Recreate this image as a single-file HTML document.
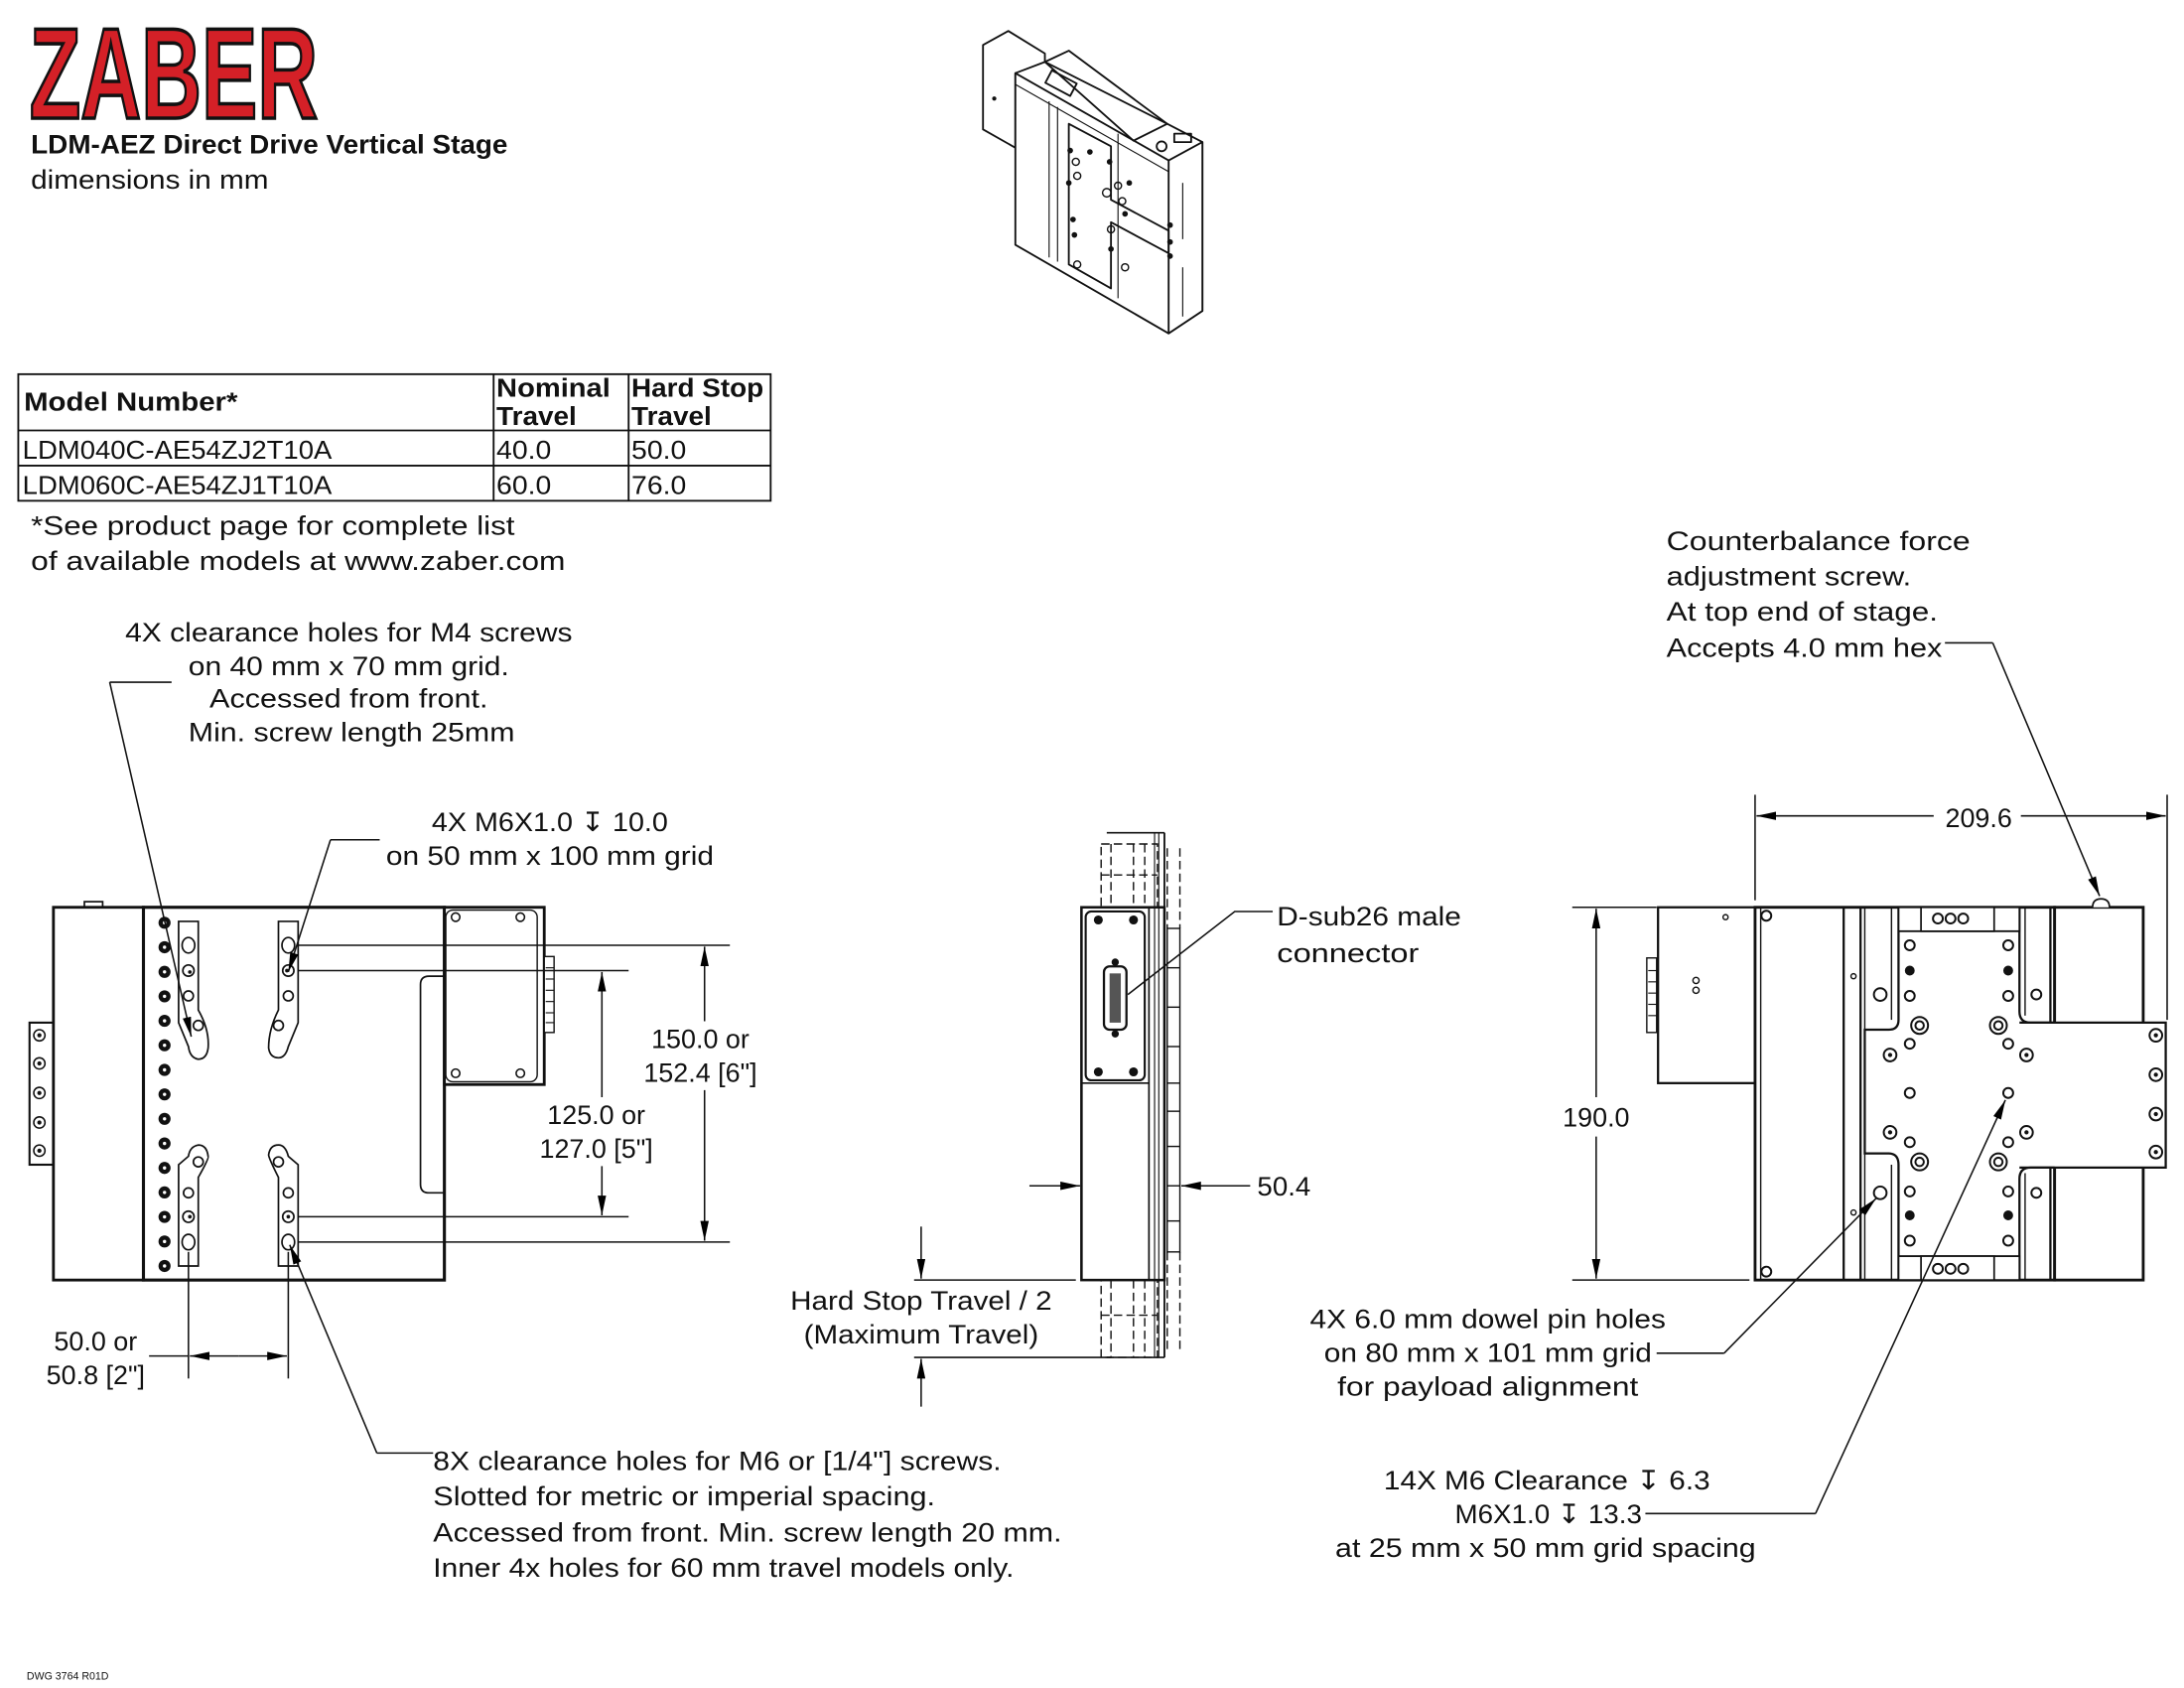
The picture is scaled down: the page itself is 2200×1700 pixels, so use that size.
<!DOCTYPE html>
<html><head><meta charset="utf-8"><style>
html,body{margin:0;padding:0;background:#fff}
svg{display:block}
text{font-family:"Liberation Sans","DejaVu Sans",sans-serif;fill:#111}
</style></head><body>
<svg width="2200" height="1700" viewBox="0 0 1553 1200" xmlns="http://www.w3.org/2000/svg">
<defs>
<marker id="a" viewBox="0 0 14 6" refX="14" refY="3" markerWidth="14" markerHeight="6" markerUnits="userSpaceOnUse" orient="auto-start-reverse"><path d="M0,0 L14,3 L0,6 z" fill="#000"/></marker>
</defs>
<rect width="1553" height="1200" fill="#fff"/>

<!-- Logo -->
<text x="21" y="84" font-size="92" font-weight="bold" textLength="205" lengthAdjust="spacingAndGlyphs" style="fill:#d42027;stroke:#111;stroke-width:2.5;font-family:'Liberation Sans Narrow','Liberation Sans',sans-serif">ZABER</text>
<text x="22" y="109" font-size="19" font-weight="bold" textLength="339" lengthAdjust="spacingAndGlyphs">LDM-AEZ Direct Drive Vertical Stage</text>
<text x="22" y="134" font-size="19" textLength="169" lengthAdjust="spacingAndGlyphs">dimensions in mm</text>

<!-- Table -->
<g stroke="#111" stroke-width="1.3" fill="none">
<rect x="13" y="266" width="535" height="90"/>
<line x1="13" y1="306" x2="548" y2="306"/>
<line x1="13" y1="331" x2="548" y2="331"/>
<line x1="351" y1="266" x2="351" y2="356"/>
<line x1="447" y1="266" x2="447" y2="356"/>
</g>
<g font-size="18">
<text x="17" y="292" font-weight="bold" textLength="152" lengthAdjust="spacingAndGlyphs">Model Number*</text>
<text x="353" y="282" font-weight="bold" textLength="81" lengthAdjust="spacingAndGlyphs">Nominal</text>
<text x="353" y="302" font-weight="bold" textLength="57" lengthAdjust="spacingAndGlyphs">Travel</text>
<text x="449" y="282" font-weight="bold" textLength="94" lengthAdjust="spacingAndGlyphs">Hard Stop</text>
<text x="449" y="302" font-weight="bold" textLength="57" lengthAdjust="spacingAndGlyphs">Travel</text>
<text x="16" y="326" textLength="220" lengthAdjust="spacingAndGlyphs">LDM040C-AE54ZJ2T10A</text>
<text x="16" y="351" textLength="220" lengthAdjust="spacingAndGlyphs">LDM060C-AE54ZJ1T10A</text>
<text x="353" y="326" textLength="39" lengthAdjust="spacingAndGlyphs">40.0</text>
<text x="353" y="351" textLength="39" lengthAdjust="spacingAndGlyphs">60.0</text>
<text x="449" y="326" textLength="39" lengthAdjust="spacingAndGlyphs">50.0</text>
<text x="449" y="351" textLength="39" lengthAdjust="spacingAndGlyphs">76.0</text>
</g>
<g font-size="19">
<text x="22" y="380" textLength="344" lengthAdjust="spacingAndGlyphs">*See product page for complete list</text>
<text x="22" y="405" textLength="380" lengthAdjust="spacingAndGlyphs">of available models at www.zaber.com</text>
</g>

<!-- Iso view -->
<g stroke="#111" stroke-width="1.3" fill="#fff" stroke-linejoin="round">
<polygon points="699,32 717,22 743,38 743,48 722,52 722,105 699,92"/>
<polygon points="722,52 743,44 830,88 855,101 855,221 831,237 722,174"/>
<polygon points="831,114 855,101 855,221 831,237"/>
<line x1="722" y1="52" x2="831" y2="114"/>
<line x1="722" y1="60" x2="831" y2="122" stroke-width="0.8"/>
<polygon points="743,44 760,36 830,88 806,100" fill="none"/>
<rect x="748" y="50" width="20" height="10" transform="rotate(28 748 50)" fill="none"/>
<polygon points="760,88 790,104 790,142 831,164 831,180 790,158 790,205 760,188" fill="none"/>
<line x1="746" y1="72" x2="746" y2="183" stroke-width="0.8"/>
<line x1="752" y1="76" x2="752" y2="186" stroke-width="0.8"/>
<line x1="795" y1="95" x2="795" y2="212" stroke-width="0.8"/>
<line x1="841" y1="130" x2="841" y2="170" stroke-width="0.8"/>
<line x1="841" y1="190" x2="841" y2="225" stroke-width="0.8"/>
<rect x="835" y="95" width="12" height="6" fill="none"/>
<circle cx="826" cy="104" r="3.5" fill="none"/>
</g>
<g fill="#111">
<circle cx="707" cy="70" r="1.5"/><circle cx="761" cy="107" r="2"/><circle cx="760" cy="130" r="2"/><circle cx="775" cy="108" r="2"/><circle cx="789" cy="115" r="2"/><circle cx="803" cy="130" r="2"/><circle cx="763" cy="156" r="2"/><circle cx="764" cy="167" r="2"/><circle cx="790" cy="177" r="2"/><circle cx="800" cy="152" r="2"/><circle cx="832" cy="160" r="2"/><circle cx="832" cy="172" r="2"/><circle cx="832" cy="182" r="2"/>
</g>
<g fill="none" stroke="#111" stroke-width="1">
<circle cx="765" cy="115" r="2.5"/><circle cx="766" cy="125" r="2.5"/><circle cx="795" cy="132" r="2.5"/><circle cx="798" cy="143" r="2.5"/><circle cx="766" cy="188" r="2.5"/><circle cx="800" cy="190" r="2.5"/><circle cx="790" cy="163" r="2.5"/><circle cx="787" cy="137" r="3"/>
</g>

<!-- ============ LEFT VIEW ============ -->
<g stroke="#111" fill="#fff">
<rect x="60" y="641" width="13" height="5" stroke-width="1.2"/>
<rect x="21" y="727" width="17" height="101" stroke-width="1.5"/>
<rect x="38" y="645" width="64" height="265" stroke-width="2"/>
<rect x="102" y="645" width="214" height="265" stroke-width="2.2"/>
<rect x="316" y="645" width="71" height="126" stroke-width="2"/>
<rect x="317" y="647" width="65" height="122" rx="5" stroke-width="1"/>
<rect x="387" y="680" width="7" height="54" stroke-width="1"/>
<path d="M316,694 L305,694 Q299,694 299,700 L299,842 Q299,848 305,848 L316,848" fill="none" stroke-width="1.2"/>
</g>
<g stroke="#111" stroke-width="0.8">
<line x1="388" y1="688" x2="394" y2="688"/><line x1="388" y1="696" x2="394" y2="696"/><line x1="388" y1="704" x2="394" y2="704"/><line x1="388" y1="712" x2="394" y2="712"/><line x1="388" y1="720" x2="394" y2="720"/><line x1="388" y1="727" x2="394" y2="727"/>
</g>
<g fill="none" stroke="#111" stroke-width="1.1">
<circle cx="28" cy="736" r="4"/><circle cx="28" cy="756" r="4"/><circle cx="28" cy="777" r="4"/><circle cx="28" cy="798" r="4"/><circle cx="28" cy="818" r="4"/>
<circle cx="324" cy="652" r="3"/><circle cx="370" cy="652" r="3"/><circle cx="324" cy="763" r="3"/><circle cx="370" cy="763" r="3"/>
</g>
<g fill="#111">
<circle cx="28" cy="736" r="1.5"/><circle cx="28" cy="756" r="1.5"/><circle cx="28" cy="777" r="1.5"/><circle cx="28" cy="798" r="1.5"/><circle cx="28" cy="818" r="1.5"/>
</g>
<g fill="#111">
<circle cx="117" cy="656" r="4.3"/><circle cx="117" cy="673.4" r="4.3"/><circle cx="117" cy="690.9" r="4.3"/><circle cx="117" cy="708.3" r="4.3"/><circle cx="117" cy="725.7" r="4.3"/><circle cx="117" cy="743.1" r="4.3"/><circle cx="117" cy="760.6" r="4.3"/><circle cx="117" cy="778" r="4.3"/><circle cx="117" cy="795.4" r="4.3"/><circle cx="117" cy="812.9" r="4.3"/><circle cx="117" cy="830.3" r="4.3"/><circle cx="117" cy="847.7" r="4.3"/><circle cx="117" cy="865.1" r="4.3"/><circle cx="117" cy="882.6" r="4.3"/><circle cx="117" cy="900" r="4.3"/>
</g>
<g fill="#fff"><circle cx="117" cy="656" r="1.2"/><circle cx="117" cy="673.4" r="1.2"/><circle cx="117" cy="690.9" r="1.2"/><circle cx="117" cy="708.3" r="1.2"/><circle cx="117" cy="725.7" r="1.2"/><circle cx="117" cy="743.1" r="1.2"/><circle cx="117" cy="760.6" r="1.2"/><circle cx="117" cy="778" r="1.2"/><circle cx="117" cy="795.4" r="1.2"/><circle cx="117" cy="812.9" r="1.2"/><circle cx="117" cy="830.3" r="1.2"/><circle cx="117" cy="847.7" r="1.2"/><circle cx="117" cy="865.1" r="1.2"/><circle cx="117" cy="882.6" r="1.2"/><circle cx="117" cy="900" r="1.2"/></g>
<g fill="none" stroke="#111" stroke-width="1.2">
<path d="M127,655 L141,655 L141,718 Q149,732 148,745 Q147,753 141,753 Q135,752 134,744 L127,727 Z"/>
<path d="M198,655 L212,655 L212,727 L205,744 Q203,752 198,752 Q192,752 191,745 Q191,732 198,718 Z"/>
<path d="M127,900 L141,900 L141,837 Q149,823 148,822 Q147,814 141,814 Q135,815 134,822 L127,828 Z"/>
<path d="M198,900 L212,900 L212,828 L205,822 Q203,814 198,814 Q192,814 191,821 Q191,823 198,837 Z"/>
<ellipse cx="134" cy="672" rx="4.5" ry="5.5"/><circle cx="134" cy="690" r="4"/><circle cx="134" cy="708" r="3.5"/><circle cx="141" cy="729" r="3.5"/>
<ellipse cx="205" cy="672" rx="4.5" ry="5.5"/><circle cx="205" cy="690" r="4"/><circle cx="205" cy="708" r="3.5"/><circle cx="198" cy="729" r="3.5"/>
<circle cx="141" cy="826" r="3.5"/><circle cx="134" cy="848" r="3.5"/><circle cx="134" cy="865" r="4"/><ellipse cx="134" cy="883" rx="4.5" ry="5.5"/>
<circle cx="198" cy="826" r="3.5"/><circle cx="205" cy="848" r="3.5"/><circle cx="205" cy="865" r="4"/><ellipse cx="205" cy="883" rx="4.5" ry="5.5"/>
</g>
<g fill="#111"><circle cx="135" cy="691" r="1.3"/><circle cx="204" cy="690" r="1.3"/><circle cx="135" cy="865" r="1.3"/><circle cx="205" cy="865" r="1.3"/></g>

<!-- left view dims -->
<g stroke="#111" stroke-width="1.1" fill="none">
<line x1="212" y1="672" x2="519" y2="672"/>
<line x1="212" y1="883" x2="519" y2="883"/>
<line x1="212" y1="690" x2="447" y2="690"/>
<line x1="212" y1="865" x2="447" y2="865"/>
<line x1="501" y1="726" x2="501" y2="673" marker-end="url(#a)"/>
<line x1="501" y1="775" x2="501" y2="882" marker-end="url(#a)"/>
<line x1="428" y1="780" x2="428" y2="691" marker-end="url(#a)"/>
<line x1="428" y1="829" x2="428" y2="864" marker-end="url(#a)"/>
<line x1="134" y1="890" x2="134" y2="980"/>
<line x1="205" y1="890" x2="205" y2="980"/>
<line x1="106" y1="964" x2="134" y2="964"/>
<line x1="170" y1="964" x2="135" y2="964" marker-end="url(#a)"/>
<line x1="170" y1="964" x2="204" y2="964" marker-end="url(#a)"/>
<polyline points="122,485 78,485"/>
<line x1="78" y1="485" x2="136" y2="737" marker-end="url(#a)"/>
<polyline points="270,597 235,597"/>
<line x1="235" y1="597" x2="205" y2="691" marker-end="url(#a)"/>
<polyline points="308,1033 268,1033"/>
<line x1="268" y1="1033" x2="206" y2="885" marker-end="url(#a)"/>
</g>
<g font-size="19" text-anchor="middle">
<text x="498" y="745">150.0 or</text>
<text x="498" y="769">152.4 [6"]</text>
<text x="424" y="799">125.0 or</text>
<text x="424" y="823">127.0 [5"]</text>
<text x="68" y="960">50.0 or</text>
<text x="68" y="984">50.8 [2"]</text>
<text x="248" y="456" textLength="318" lengthAdjust="spacingAndGlyphs">4X clearance holes for M4 screws</text>
<text x="248" y="480" textLength="228" lengthAdjust="spacingAndGlyphs">on 40 mm x 70 mm grid.</text>
<text x="248" y="503" textLength="198" lengthAdjust="spacingAndGlyphs">Accessed from front.</text>
<text x="250" y="527" textLength="232" lengthAdjust="spacingAndGlyphs">Min. screw length 25mm</text>
<text x="391" y="591" textLength="168" lengthAdjust="spacingAndGlyphs">4X M6X1.0 ↧ 10.0</text>
<text x="391" y="615" textLength="233" lengthAdjust="spacingAndGlyphs">on 50 mm x 100 mm grid</text>
</g>
<g font-size="19">
<text x="308" y="1045" textLength="404" lengthAdjust="spacingAndGlyphs">8X clearance holes for M6 or [1/4"] screws.</text>
<text x="308" y="1070" textLength="357" lengthAdjust="spacingAndGlyphs">Slotted for metric or imperial spacing.</text>
<text x="308" y="1096" textLength="447" lengthAdjust="spacingAndGlyphs">Accessed from front. Min. screw length 20 mm.</text>
<text x="308" y="1121" textLength="413" lengthAdjust="spacingAndGlyphs">Inner 4x holes for 60 mm travel models only.</text>
</g>
<text x="19" y="1194" font-size="7.5">DWG 3764 R01D</text>

<!-- ============ MIDDLE VIEW ============ -->
<g stroke="#111" stroke-width="1" fill="none" stroke-dasharray="6,3">
<rect x="783" y="600" width="40" height="45"/>
<line x1="790" y1="600" x2="790" y2="645"/><line x1="806" y1="600" x2="806" y2="645"/><line x1="814" y1="600" x2="814" y2="645"/>
<line x1="783" y1="622" x2="823" y2="622"/>
<rect x="783" y="910" width="40" height="55"/>
<line x1="790" y1="910" x2="790" y2="965"/><line x1="806" y1="910" x2="806" y2="965"/><line x1="814" y1="910" x2="814" y2="965"/>
<line x1="783" y1="935" x2="823" y2="935"/>
<line x1="830" y1="603" x2="830" y2="660"/><line x1="839" y1="603" x2="839" y2="660"/>
<line x1="830" y1="890" x2="830" y2="960"/><line x1="839" y1="890" x2="839" y2="960"/>
</g>
<g stroke="#111" fill="none">
<line x1="787" y1="592" x2="828" y2="592" stroke-width="1.2"/>
<line x1="787" y1="965" x2="828" y2="965" stroke-width="1.2"/>
<line x1="828" y1="592" x2="828" y2="965" stroke-width="1.3"/>
<line x1="821" y1="592" x2="821" y2="965" stroke-width="0.8"/>
<line x1="824" y1="592" x2="824" y2="965" stroke-width="0.8"/>
<rect x="769" y="645" width="59" height="265" stroke-width="1.8" fill="#fff"/>
<line x1="817" y1="645" x2="817" y2="910" stroke-width="1.2"/>
<line x1="821" y1="645" x2="821" y2="910" stroke-width="0.8"/>
<line x1="824" y1="645" x2="824" y2="910" stroke-width="0.8"/>
<line x1="769" y1="770" x2="817" y2="770" stroke-width="1.2"/>
<rect x="772" y="648" width="42" height="120" rx="4" stroke-width="1.5"/>
<rect x="830" y="660" width="9" height="230" stroke-width="1"/>
<line x1="830" y1="688" x2="839" y2="688"/><line x1="830" y1="716" x2="839" y2="716"/><line x1="830" y1="744" x2="839" y2="744"/><line x1="830" y1="770" x2="839" y2="770"/><line x1="830" y1="790" x2="839" y2="790"/><line x1="830" y1="815" x2="839" y2="815"/><line x1="830" y1="843" x2="839" y2="843"/><line x1="830" y1="868" x2="839" y2="868"/>
<rect x="785" y="687" width="16" height="45" rx="4" stroke-width="1.6"/>
</g>
<g fill="#111">
<circle cx="781" cy="654" r="3.2"/><circle cx="806" cy="654" r="3.2"/><circle cx="781" cy="762" r="3.2"/><circle cx="806" cy="762" r="3.2"/>
<circle cx="793" cy="684" r="2.6"/><circle cx="793" cy="735" r="2.6"/>
</g>
<g><rect x="789" y="692" width="8" height="35" fill="#555"/></g>
<g stroke="#111" stroke-width="1.1" fill="none">
<polyline points="905,648 878,648 802,707"/>
<line x1="732" y1="843" x2="768" y2="843" marker-end="url(#a)"/>
<line x1="889" y1="843" x2="840" y2="843" marker-end="url(#a)"/>
<line x1="650" y1="910" x2="765" y2="910"/>
<line x1="650" y1="965" x2="790" y2="965"/>
<line x1="655" y1="872" x2="655" y2="909" marker-end="url(#a)"/>
<line x1="655" y1="1000" x2="655" y2="966" marker-end="url(#a)"/>
</g>
<g font-size="19">
<text x="908" y="658" textLength="131" lengthAdjust="spacingAndGlyphs">D-sub26 male</text>
<text x="908" y="684" textLength="101" lengthAdjust="spacingAndGlyphs">connector</text>
<text x="894" y="850" textLength="38" lengthAdjust="spacingAndGlyphs">50.4</text>
<text x="655" y="931" text-anchor="middle" textLength="186" lengthAdjust="spacingAndGlyphs">Hard Stop Travel / 2</text>
<text x="655" y="955" text-anchor="middle" textLength="167" lengthAdjust="spacingAndGlyphs">(Maximum Travel)</text>
</g>

<!-- ============ RIGHT VIEW ============ -->
<g stroke="#111" fill="#fff">
<rect x="1179" y="645" width="69" height="125" stroke-width="1.6"/>
<rect x="1171" y="681" width="7" height="53" stroke-width="1"/>
<rect x="1248" y="645" width="213" height="265" stroke-width="2"/>
<rect x="1461" y="645" width="63" height="265" stroke-width="2"/>
<path d="M1350,645 L1350,725 Q1350,732 1343,732 L1326,732 L1326,820 L1343,820 Q1350,820 1350,828 L1350,910 L1436,910 L1436,838 Q1436,830 1444,830 L1540,830 L1540,727 L1444,727 Q1436,727 1436,719 L1436,645 Z" stroke-width="1.6"/>
<path d="M1436,727 L1461,727 M1436,830 L1461,830" stroke-width="1.6"/>
<rect x="1350" y="645" width="86" height="17" stroke-width="1.3"/>
<rect x="1366" y="645" width="52" height="17" stroke-width="1.2"/>
<rect x="1350" y="893" width="86" height="17" stroke-width="1.3"/>
<rect x="1366" y="893" width="52" height="17" stroke-width="1.2"/>
<path d="M1488,645 Q1488,639 1494,639 Q1500,639 1500,645" stroke-width="1.2"/>
</g>
<g stroke="#111" fill="none">
<line x1="1252" y1="645" x2="1252" y2="910" stroke-width="1"/>
<line x1="1311" y1="645" x2="1311" y2="910" stroke-width="1.6"/>
<line x1="1323" y1="645" x2="1323" y2="910" stroke-width="1.6"/>
<line x1="1326" y1="645" x2="1326" y2="732" stroke-width="1"/>
<line x1="1326" y1="820" x2="1326" y2="910" stroke-width="1"/>
<line x1="1345" y1="645" x2="1345" y2="725" stroke-width="1"/>
<line x1="1345" y1="828" x2="1345" y2="910" stroke-width="1"/>
<line x1="1440" y1="645" x2="1440" y2="722" stroke-width="1"/>
<line x1="1440" y1="834" x2="1440" y2="910" stroke-width="1"/>
<line x1="1458" y1="645" x2="1458" y2="727" stroke-width="1.6"/>
<line x1="1458" y1="830" x2="1458" y2="910" stroke-width="1.6"/>
<line x1="1172" y1="690" x2="1178" y2="690" stroke-width="0.8"/><line x1="1172" y1="698" x2="1178" y2="698" stroke-width="0.8"/><line x1="1172" y1="706" x2="1178" y2="706" stroke-width="0.8"/><line x1="1172" y1="714" x2="1178" y2="714" stroke-width="0.8"/><line x1="1172" y1="722" x2="1178" y2="722" stroke-width="0.8"/>
</g>
<g stroke="#111" fill="none" stroke-width="1.4">
<circle cx="1358" cy="672" r="3.5"/><circle cx="1358" cy="708" r="3.5"/><circle cx="1358" cy="742" r="3.5"/><circle cx="1358" cy="777" r="3.5"/><circle cx="1358" cy="812" r="3.5"/><circle cx="1358" cy="847" r="3.5"/><circle cx="1358" cy="882" r="3.5"/>
<circle cx="1428" cy="672" r="3.5"/><circle cx="1428" cy="708" r="3.5"/><circle cx="1428" cy="742" r="3.5"/><circle cx="1428" cy="777" r="3.5"/><circle cx="1428" cy="812" r="3.5"/><circle cx="1428" cy="847" r="3.5"/><circle cx="1428" cy="882" r="3.5"/>
<circle cx="1365" cy="729" r="6"/><circle cx="1365" cy="729" r="3"/><circle cx="1421" cy="729" r="6"/><circle cx="1421" cy="729" r="3"/>
<circle cx="1365" cy="826" r="6"/><circle cx="1365" cy="826" r="3"/><circle cx="1421" cy="826" r="6"/><circle cx="1421" cy="826" r="3"/>
<circle cx="1344" cy="750" r="4.5"/><circle cx="1441" cy="750" r="4.5"/><circle cx="1344" cy="805" r="4.5"/><circle cx="1441" cy="805" r="4.5"/>
<circle cx="1337" cy="707" r="4.5"/><circle cx="1337" cy="848" r="4.5"/>
<circle cx="1448" cy="707" r="3.5"/><circle cx="1448" cy="848" r="3.5"/>
<circle cx="1533" cy="736" r="4.5"/><circle cx="1533" cy="764" r="4.5"/><circle cx="1533" cy="792" r="4.5"/><circle cx="1533" cy="819" r="4.5"/>
<circle cx="1256" cy="651" r="3.5"/><circle cx="1256" cy="904" r="3.5"/>
<circle cx="1378" cy="653" r="3.5"/><circle cx="1387" cy="653" r="3.5"/><circle cx="1396" cy="653" r="3.5"/>
<circle cx="1378" cy="902" r="3.5"/><circle cx="1387" cy="902" r="3.5"/><circle cx="1396" cy="902" r="3.5"/>
</g>
<g fill="#111">
<circle cx="1358" cy="690" r="3.5"/><circle cx="1428" cy="690" r="3.5"/><circle cx="1358" cy="864" r="3.5"/><circle cx="1428" cy="864" r="3.5"/>
<circle cx="1533" cy="736" r="1.5"/><circle cx="1533" cy="764" r="1.5"/><circle cx="1533" cy="792" r="1.5"/><circle cx="1533" cy="819" r="1.5"/>
<circle cx="1344" cy="750" r="1.5"/><circle cx="1441" cy="750" r="1.5"/><circle cx="1344" cy="805" r="1.5"/><circle cx="1441" cy="805" r="1.5"/>
</g>
<g stroke="#111" fill="none" stroke-width="1">
<circle cx="1227" cy="652" r="1.8"/><circle cx="1206" cy="697" r="2.2"/><circle cx="1206" cy="704" r="2.2"/><circle cx="1318" cy="694" r="1.8"/><circle cx="1318" cy="862" r="1.8"/>
</g>

<!-- right dims -->
<g stroke="#111" stroke-width="1.1" fill="none">
<line x1="1118" y1="645" x2="1178" y2="645"/>
<line x1="1118" y1="910" x2="1244" y2="910"/>
<line x1="1135" y1="780" x2="1135" y2="646" marker-end="url(#a)"/>
<line x1="1135" y1="808" x2="1135" y2="909" marker-end="url(#a)"/>
<line x1="1248" y1="565" x2="1248" y2="640"/>
<line x1="1541" y1="565" x2="1541" y2="725"/>
<line x1="1375" y1="580" x2="1249" y2="580" marker-end="url(#a)"/>
<line x1="1437" y1="580" x2="1540" y2="580" marker-end="url(#a)"/>
<polyline points="1383,457 1417,457"/>
<line x1="1417" y1="457" x2="1493" y2="637" marker-end="url(#a)"/>
<polyline points="1178,962 1226,962"/>
<line x1="1226" y1="962" x2="1334" y2="852" marker-end="url(#a)"/>
<polyline points="1170,1076 1291,1076"/>
<line x1="1291" y1="1076" x2="1426" y2="782" marker-end="url(#a)"/>
</g>
<g font-size="19">
<text x="1135" y="801" text-anchor="middle">190.0</text>
<text x="1407" y="588" text-anchor="middle">209.6</text>
<text x="1185" y="391" textLength="216" lengthAdjust="spacingAndGlyphs">Counterbalance force</text>
<text x="1185" y="416" textLength="174" lengthAdjust="spacingAndGlyphs">adjustment screw.</text>
<text x="1185" y="441" textLength="193" lengthAdjust="spacingAndGlyphs">At top end of stage.</text>
<text x="1185" y="467" textLength="196" lengthAdjust="spacingAndGlyphs">Accepts 4.0 mm hex</text>
<text x="1058" y="944" text-anchor="middle" textLength="253" lengthAdjust="spacingAndGlyphs">4X 6.0 mm dowel pin holes</text>
<text x="1058" y="968" text-anchor="middle" textLength="233" lengthAdjust="spacingAndGlyphs">on 80 mm x 101 mm grid</text>
<text x="1058" y="992" text-anchor="middle" textLength="214" lengthAdjust="spacingAndGlyphs">for payload alignment</text>
<text x="1100" y="1059" text-anchor="middle" textLength="232" lengthAdjust="spacingAndGlyphs">14X M6 Clearance ↧ 6.3</text>
<text x="1101" y="1083" text-anchor="middle" textLength="133" lengthAdjust="spacingAndGlyphs">M6X1.0 ↧ 13.3</text>
<text x="1099" y="1107" text-anchor="middle" textLength="299" lengthAdjust="spacingAndGlyphs">at 25 mm x 50 mm grid spacing</text>
</g>
</svg>
</body></html>
